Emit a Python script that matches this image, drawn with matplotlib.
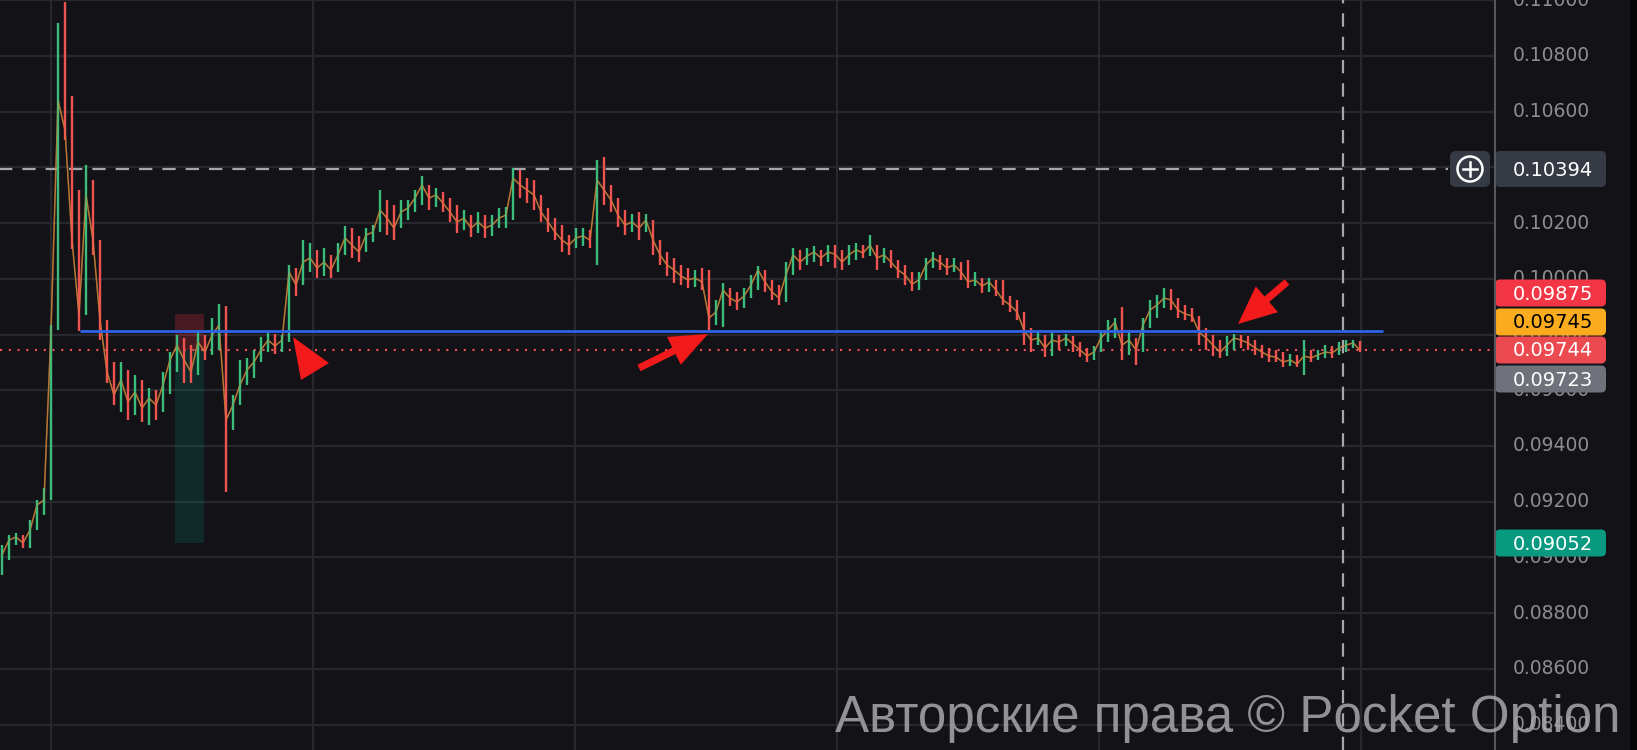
import matplotlib
matplotlib.use("Agg")
import matplotlib.pyplot as plt
import numpy as np
from matplotlib.patches import Rectangle, Polygon, FancyBboxPatch, Circle

# ---------------- data ----------------
first_open = 0.09000
closes = [0.09009, 0.09062, 0.09073, 0.09052, 0.09098, 0.09188, 0.09206, 0.09816, 0.10642, 0.10534,
          0.10139, 0.09870, 0.10301, 0.10139, 0.09852, 0.09666, 0.09583, 0.09637, 0.09558, 0.09594,
          0.09536, 0.09572, 0.09547, 0.09619, 0.09709, 0.09762, 0.09709, 0.09666, 0.09773, 0.09737,
          0.09798, 0.09834, 0.09493, 0.09547, 0.09619, 0.09673, 0.09701, 0.09745, 0.09780, 0.09759,
          0.09780, 0.10025, 0.09978, 0.10060, 0.10075, 0.10039, 0.10060, 0.10032, 0.10086, 0.10147,
          0.10121, 0.10096, 0.10157, 0.10168, 0.10247, 0.10218, 0.10182, 0.10240, 0.10254, 0.10290,
          0.10337, 0.10290, 0.10301, 0.10272, 0.10240, 0.10204, 0.10218, 0.10182, 0.10204, 0.10182,
          0.10193, 0.10218, 0.10229, 0.10362, 0.10337, 0.10319, 0.10301, 0.10240, 0.10204, 0.10168,
          0.10139, 0.10121, 0.10147, 0.10154, 0.10139, 0.10355, 0.10319, 0.10283, 0.10229, 0.10193,
          0.10204, 0.10182, 0.10211, 0.10139, 0.10086, 0.10050, 0.10032, 0.10010, 0.09996, 0.10003,
          0.09989, 0.09859, 0.09881, 0.09960, 0.09931, 0.09917, 0.09938, 0.09978, 0.10032, 0.09989,
          0.09953, 0.09931, 0.10014, 0.10086, 0.10060, 0.10082, 0.10096, 0.10075, 0.10096, 0.10089,
          0.10060, 0.10086, 0.10104, 0.10093, 0.10121, 0.10075, 0.10086, 0.10060, 0.10032, 0.10014,
          0.09981, 0.09996, 0.10050, 0.10075, 0.10060, 0.10039, 0.10050, 0.10025, 0.09989, 0.09996,
          0.09974, 0.09989, 0.09960, 0.09924, 0.09906, 0.09881, 0.09816, 0.09780, 0.09788, 0.09752,
          0.09780, 0.09773, 0.09788, 0.09766, 0.09745, 0.09723, 0.09737, 0.09788, 0.09816, 0.09845,
          0.09762, 0.09780, 0.09745, 0.09834, 0.09888, 0.09906, 0.09931, 0.09924, 0.09888, 0.09874,
          0.09867, 0.09809, 0.09788, 0.09762, 0.09737, 0.09762, 0.09788, 0.09780, 0.09770, 0.09752,
          0.09737, 0.09723, 0.09719, 0.09701, 0.09709, 0.09694, 0.09723, 0.09716, 0.09727, 0.09737,
          0.09734, 0.09752, 0.09762, 0.09770, 0.09744]
highs = [0.09044, 0.09080, 0.09087, 0.09080, 0.09134, 0.09206, 0.09249, 0.09834, 0.10918, 0.10994,
         0.10656, 0.10319, 0.10409, 0.10355, 0.10104, 0.09834, 0.09701, 0.09701, 0.09673, 0.09655,
         0.09637, 0.09608, 0.09601, 0.09666, 0.09737, 0.09798, 0.09788, 0.09762, 0.09816, 0.09798,
         0.09859, 0.09910, 0.09902, 0.09583, 0.09709, 0.09716, 0.09745, 0.09791, 0.09806, 0.09802,
         0.09798, 0.10050, 0.10039, 0.10139, 0.10129, 0.10104, 0.10111, 0.10086, 0.10129, 0.10190,
         0.10182, 0.10154, 0.10182, 0.10193, 0.10319, 0.10283, 0.10265, 0.10283, 0.10283, 0.10319,
         0.10369, 0.10337, 0.10326, 0.10312, 0.10290, 0.10265, 0.10247, 0.10229, 0.10240, 0.10229,
         0.10229, 0.10254, 0.10258, 0.10398, 0.10391, 0.10362, 0.10355, 0.10301, 0.10254, 0.10218,
         0.10193, 0.10157, 0.10182, 0.10182, 0.10175, 0.10427, 0.10437, 0.10337, 0.10290, 0.10247,
         0.10233, 0.10240, 0.10233, 0.10211, 0.10139, 0.10096, 0.10075, 0.10050, 0.10039, 0.10032,
         0.10039, 0.10032, 0.09924, 0.09985, 0.09967, 0.09953, 0.09967, 0.10014, 0.10046, 0.10025,
         0.09996, 0.09978, 0.10060, 0.10111, 0.10104, 0.10111, 0.10118, 0.10104, 0.10121, 0.10121,
         0.10104, 0.10121, 0.10129, 0.10121, 0.10157, 0.10111, 0.10111, 0.10104, 0.10068, 0.10050,
         0.10025, 0.10025, 0.10075, 0.10096, 0.10086, 0.10075, 0.10075, 0.10060, 0.10068, 0.10025,
         0.10003, 0.10003, 0.09996, 0.09996, 0.09938, 0.09924, 0.09867, 0.09824, 0.09809, 0.09798,
         0.09806, 0.09798, 0.09802, 0.09795, 0.09773, 0.09752, 0.09759, 0.09816, 0.09852, 0.09859,
         0.09899, 0.09816, 0.09788, 0.09859, 0.09924, 0.09942, 0.09967, 0.09964, 0.09931, 0.09906,
         0.09895, 0.09867, 0.09824, 0.09798, 0.09780, 0.09795, 0.09802, 0.09798, 0.09795, 0.09780,
         0.09762, 0.09752, 0.09745, 0.09737, 0.09730, 0.09727, 0.09780, 0.09745, 0.09745, 0.09762,
         0.09759, 0.09773, 0.09780, 0.09780, 0.09777]
lows = [0.08937, 0.08991, 0.09044, 0.09034, 0.09034, 0.09098, 0.09152, 0.09206, 0.09816, 0.10498,
        0.10107, 0.09813, 0.09902, 0.10086, 0.09780, 0.09626, 0.09547, 0.09522, 0.09493, 0.09511,
        0.09486, 0.09475, 0.09493, 0.09522, 0.09587, 0.09666, 0.09626, 0.09626, 0.09655, 0.09709,
        0.09727, 0.09745, 0.09235, 0.09457, 0.09565, 0.09619, 0.09644, 0.09701, 0.09737, 0.09730,
        0.09737, 0.09773, 0.09938, 0.10014, 0.10025, 0.10003, 0.10010, 0.10003, 0.10025, 0.10104,
        0.10075, 0.10060, 0.10121, 0.10132, 0.10193, 0.10157, 0.10139, 0.10204, 0.10211, 0.10240,
        0.10265, 0.10247, 0.10258, 0.10240, 0.10204, 0.10164, 0.10175, 0.10150, 0.10164, 0.10147,
        0.10154, 0.10182, 0.10182, 0.10211, 0.10290, 0.10272, 0.10247, 0.10204, 0.10168, 0.10139,
        0.10096, 0.10086, 0.10111, 0.10118, 0.10111, 0.10050, 0.10265, 0.10240, 0.10186, 0.10157,
        0.10168, 0.10139, 0.10168, 0.10086, 0.10050, 0.10010, 0.09985, 0.09978, 0.09967, 0.09971,
        0.09960, 0.09816, 0.09834, 0.09827, 0.09902, 0.09888, 0.09895, 0.09931, 0.09960, 0.09953,
        0.09924, 0.09906, 0.09917, 0.10025, 0.10032, 0.10050, 0.10060, 0.10046, 0.10060, 0.10039,
        0.10032, 0.10050, 0.10068, 0.10075, 0.10082, 0.10032, 0.10057, 0.10039, 0.10003, 0.09978,
        0.09956, 0.09960, 0.10003, 0.10039, 0.10032, 0.10014, 0.10025, 0.09996, 0.09967, 0.09974,
        0.09949, 0.09953, 0.09938, 0.09906, 0.09881, 0.09852, 0.09762, 0.09737, 0.09762, 0.09719,
        0.09723, 0.09745, 0.09759, 0.09737, 0.09719, 0.09701, 0.09709, 0.09745, 0.09773, 0.09788,
        0.09709, 0.09727, 0.09691, 0.09737, 0.09824, 0.09859, 0.09895, 0.09888, 0.09859, 0.09852,
        0.09845, 0.09762, 0.09745, 0.09723, 0.09716, 0.09723, 0.09745, 0.09752, 0.09745, 0.09727,
        0.09716, 0.09701, 0.09701, 0.09684, 0.09687, 0.09684, 0.09655, 0.09701, 0.09709, 0.09716,
        0.09716, 0.09727, 0.09737, 0.09752, 0.09737]

price_ticks = [0.084, 0.086, 0.088, 0.090, 0.092, 0.094, 0.096, 0.098, 0.100, 0.102, 0.104, 0.106, 0.108, 0.110]
price_labels = ["0.08400", "0.08600", "0.08800", "0.09000", "0.09200", "0.09400", "0.09600",
                "0.09800", "0.10000", "0.10200", "0.10400", "0.10600", "0.10800", "0.11000"]
time_grid = [7.0, 44.4, 81.9, 119.3, 156.7, 194.1]

level_line = 0.09812        # blue horizontal level
current_price = 0.09744
crosshair_price = 0.10394
crosshair_idx = 191.6
tp_price = 0.09875
entry_price = 0.09745
sl_price = 0.09052

tag_texts = ["0.10394", "0.09875", "0.09745", "0.09744", "0.09723", "0.09052"]
tag_colors = ["#363a45", "#f23645", "#fbab1e", "#ea4a50", "#6f727b", "#089981"]
tag_text_colors = ["white", "white", "black", "white", "white", "white"]
tag_centers_px = [169, 293, 322, 350, 379, 543]

# ---------------- figure ----------------
W, H = 1637, 750
BG = "#121217"
GRID = "#27282e"
SPLIT = 1495
YMIN, YMAX = 0.083085, 0.11001

fig = plt.figure(figsize=(W / 100, H / 100), dpi=100)
fig.patch.set_facecolor(BG)

ax = fig.add_axes([0, 0, SPLIT / W, 1])
ax.set_facecolor(BG)
ax.set_ylim(YMIN, YMAX)
ax.set_xlim(-2 / 7, (SPLIT - 2) / 7)
for s in ax.spines.values():
    s.set_visible(False)
ax.set_xticks([])
ax.set_yticks([])

for v in price_ticks:
    ax.axhline(v, color=GRID, lw=1.6, zorder=0)
for xv in time_grid:
    ax.axvline(xv, color=GRID, lw=1.6, zorder=0)

n = len(closes)
idx = np.arange(n)
c = np.array(closes)
o = np.array([first_open] + closes[:-1])
hi = np.maximum(np.array(highs), np.maximum(o, c))
lo = np.minimum(np.array(lows), np.minimum(o, c))
GREEN, RED = "#3cbc7c", "#ef5350"
cols = [GREEN if cc >= oo else RED for oo, cc in zip(o, c)]

# position box (entry / take profit / stop)
ax.add_patch(Rectangle((24.7, entry_price), 4.15, tp_price - entry_price,
                       facecolor=(0.95, 0.21, 0.27, 0.24), edgecolor="none", zorder=1))
ax.add_patch(Rectangle((24.7, sl_price), 4.15, entry_price - sl_price,
                       facecolor=(0.03, 0.60, 0.50, 0.18), edgecolor="none", zorder=1))

# current price dotted line, crosshair
ax.axhline(current_price, color="#f0525a", lw=1.5, ls=(0, (1, 3.2)), zorder=2)
ax.hlines(crosshair_price, -1, 206.6, color="#a6a6ab", lw=1.6, ls=(0, (6, 4.5)), zorder=2)
ax.axvline(crosshair_idx, color="#a6a6ab", lw=1.6, ls=(0, (6, 4.5)), zorder=2)

# candles (bar style: thin full-range strokes + close line)
ax.plot(idx, c, color="#d98b3a", lw=1.1, alpha=0.75, zorder=3)
ax.vlines(idx, lo, hi, colors=cols, lw=1.7, zorder=4)
ax.plot(idx, c, color="#d98b3a", lw=0.9, alpha=0.35, zorder=5)

# blue level line
ax.hlines(level_line, 11.1, 197.3, color="#2f62e8", lw=2.0, zorder=6)

# ---------------- right price scale ----------------
rax = fig.add_axes([SPLIT / W, 0, (W - SPLIT) / W, 1])
rax.set_facecolor(BG)
rax.set_xlim(0, W - SPLIT)
rax.set_ylim(YMIN, YMAX)
rax.axis("off")
rax.add_patch(Rectangle((0, 0), W - SPLIT, 1, transform=rax.transAxes, facecolor=BG, edgecolor="none", zorder=0))
for v, lab in zip(price_ticks, price_labels):
    rax.text(18, v, lab, va="center", ha="left", color="#8c8e94", fontsize=13.5, zorder=2, clip_on=False)

# ---------------- overlay (pixel coordinates) ----------------
ov = fig.add_axes([0, 0, 1, 1])
ov.set_xlim(0, W)
ov.set_ylim(H, 0)
ov.axis("off")
ov.patch.set_alpha(0)

ov.add_patch(Rectangle((1630, 0), 7, H, facecolor="#060607", edgecolor="none"))
ov.plot([SPLIT, SPLIT], [0, H], color="#55575e", lw=1.5)

# price tags
for txt, fc, tc, yc in zip(tag_texts, tag_colors, tag_text_colors, tag_centers_px):
    h = 36 if txt == "0.10394" else 27
    ov.add_patch(FancyBboxPatch((SPLIT, yc - h / 2), 111, h,
                                boxstyle="round,pad=0,rounding_size=5", facecolor=fc, edgecolor="none"))
    ov.text(1553, yc + 1, txt, ha="center", va="center", color=tc, fontsize=14)

# crosshair "+" button
ov.add_patch(FancyBboxPatch((1450, 151), 40, 36, boxstyle="round,pad=0,rounding_size=6",
                            facecolor="#363a45", edgecolor="none"))
ov.add_patch(Circle((1470, 169), 12.5, facecolor="none", edgecolor="white", lw=1.8))
ov.plot([1463, 1477], [169, 169], color="white", lw=1.8)
ov.plot([1470, 1470], [162, 176], color="white", lw=1.8)


def arrow_pts(tip, tail, head_len, head_half, shaft_half):
    tip = np.array(tip, float)
    tail = np.array(tail, float)
    d = tip - tail
    L = np.hypot(*d)
    u = d / L
    nrm = np.array([-u[1], u[0]])
    base = tip - head_len * u
    return [tip, base + head_half * nrm, base + shaft_half * nrm, tail + shaft_half * nrm,
            tail - shaft_half * nrm, base - shaft_half * nrm, base - head_half * nrm]


ARROW = "#f21a1a"
ov.add_patch(Polygon([(293, 337), (329, 363), (301, 380)], closed=True, facecolor=ARROW, edgecolor="none"))
ov.add_patch(Polygon(arrow_pts((708, 334), (639, 368), 38, 15.5, 3.6), closed=True, facecolor=ARROW, edgecolor="none"))
ov.add_patch(Polygon(arrow_pts((1238, 324), (1287, 282), 38, 17, 3.6), closed=True, facecolor=ARROW, edgecolor="none"))

# watermark
ov.text(835, 732, "Авторские права © Pocket Option", fontsize=36.8, color="#a9a9ac", alpha=0.85,
        family=["Liberation Sans", "DejaVu Sans"], ha="left", va="baseline")

fig.savefig("out.png", dpi=100, facecolor=BG)
